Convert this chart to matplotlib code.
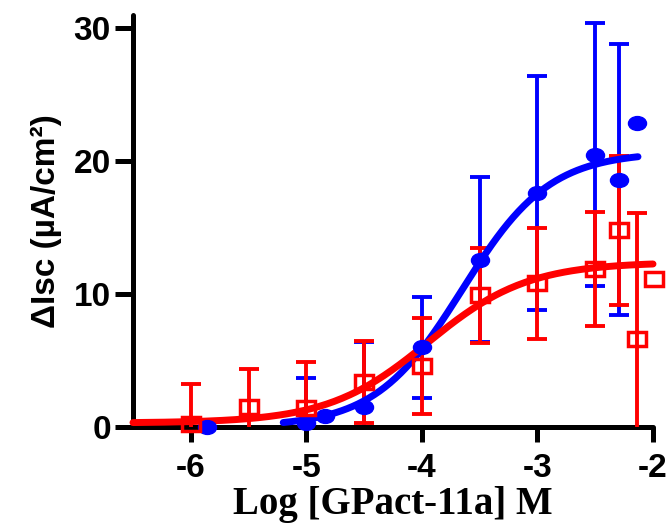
import numpy as np
import matplotlib
matplotlib.use('Agg')
from matplotlib import pyplot as plt
from matplotlib.markers import MarkerStyle
from matplotlib.transforms import Affine2D

# blue series (filled circles)
blue_x = [-5.86, -5.0, -4.84, -4.5, -4.0, -3.5, -3.0, -2.5, -2.29, -2.14]
blue_y = [0.0, 0.3, 0.8, 1.5, 6.0, 12.6, 17.6, 20.5, 18.6, 22.9]
blue_err = [np.nan, 3.4, np.nan, 4.9, 3.8, 6.2, 8.8, 9.9, 10.2, np.nan]

# red series (open squares)
red_x = [-6.0, -5.5, -5.0, -4.5, -4.0, -3.5, -3.0, -2.5, -2.29, -2.14, -1.99]
red_y = [0.2, 1.5, 1.4, 3.4, 4.6, 9.9, 10.8, 11.9, 14.8, 6.6, 11.1]
red_err = [3.0, 2.9, 3.5, 3.1, 3.6, 3.6, 4.2, 4.3, 5.6, 9.5, np.nan]

# fitted sigmoid parameters (bottom, top, logEC50, hill)
blue_fit = (0.0, 20.7, -3.65, 1.15)
red_fit = (0.3, 12.4, -3.95, 1.0)
blue_fit_range = (-5.2, -2.13)
red_fit_range = (-6.5, -2.0)

x_ticks = [-6, -5, -4, -3, -2]
y_ticks = [0, 10, 20, 30]


def sigmoid(x, p):
    bottom, top, ec, h = p
    return bottom + (top - bottom) / (1 + 10 ** ((ec - x) * h))


fig = plt.figure(figsize=(6.69, 5.26), dpi=100)
ax = fig.add_axes([133 / 669, 1 - 427 / 526, 520 / 669, 412 / 526])

blue = '#0000ff'
red = '#ff0000'

ax.errorbar(blue_x, blue_y, yerr=blue_err, fmt='none', ecolor=blue,
            elinewidth=2.8, capsize=7.5, capthick=2.8, zorder=2)
ax.errorbar(red_x, red_y, yerr=red_err, fmt='none', ecolor=red,
            elinewidth=2.8, capsize=7.5, capthick=2.8, zorder=3)

xb = np.linspace(blue_fit_range[0], blue_fit_range[1], 200)
ax.plot(xb, sigmoid(xb, blue_fit), color=blue, lw=5, zorder=4,
        solid_capstyle='round', clip_on=False)
xr = np.linspace(red_fit_range[0], red_fit_range[1], 200)
ax.plot(xr, sigmoid(xr, red_fit), color=red, lw=5, zorder=5,
        solid_capstyle='round', clip_on=False)

circ = MarkerStyle('o', transform=Affine2D().scale(1.3, 1.0))
sq = MarkerStyle('s', transform=Affine2D().scale(1.3, 1.0))
ax.plot(blue_x, blue_y, ls='none', marker=circ, ms=10, color=blue,
        zorder=6, clip_on=False)
ax.plot(red_x, red_y, ls='none', marker=sq, ms=9.5, mfc='none',
        mec=red, mew=2.5, zorder=7, clip_on=False)

ax.set_xlim(-6.5, -2)
ax.set_ylim(0, 31)
ax.set_xticks(x_ticks)
ax.set_yticks(y_ticks)
ax.set_xticklabels([str(t) for t in x_ticks])

for s in ['top', 'right']:
    ax.spines[s].set_visible(False)
for s in ['left', 'bottom']:
    ax.spines[s].set_linewidth(3.6)
    ax.spines[s].set_capstyle('round')

ax.tick_params(axis='y', direction='out', length=13, width=3.6, pad=3,
               labelsize=24)
ax.tick_params(axis='x', direction='out', length=11, width=3.6, pad=8,
               labelsize=24)
for lab in ax.get_xticklabels() + ax.get_yticklabels():
    lab.set_fontfamily('Liberation Sans')
    lab.set_fontweight('bold')

ax.set_ylabel('ΔIsc (µA/cm²)', fontsize=24, fontweight='bold',
              family='Liberation Sans', labelpad=8)
ax.set_xlabel('Log [GPact-11a] M', fontsize=28, fontweight='bold',
              family='Liberation Serif', labelpad=1)

fig.savefig('out.png', dpi=100)
